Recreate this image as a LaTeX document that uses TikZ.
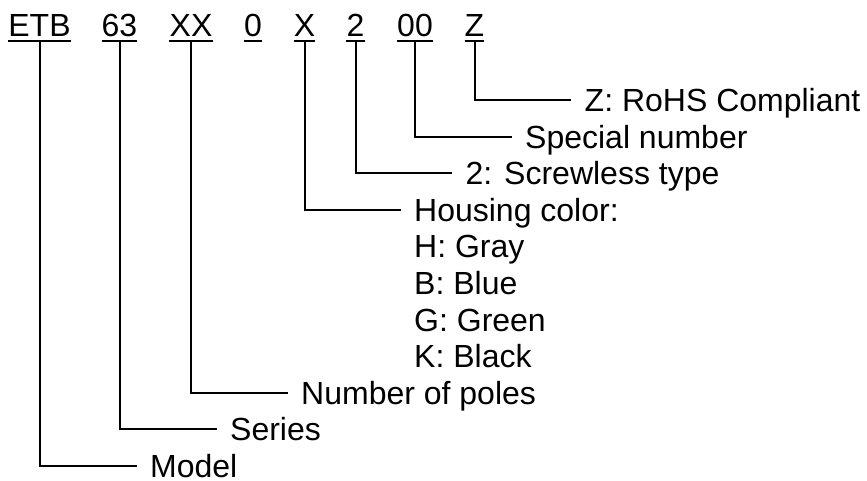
\documentclass[tikz,border=0pt]{standalone}
\usepackage{fontspec}
\setmainfont{Liberation Sans}
\begin{document}
\begin{tikzpicture}[x=1pt,y=-1pt,
  every node/.style={font=\fontsize{32pt}{38pt}\selectfont},
  tok/.style={inner sep=0pt, anchor=base},
  lbl/.style={inner xsep=13.5pt, inner ysep=0pt, text height=22.9pt, text depth=0pt, anchor=west},
  conn/.style={line width=2pt},
  ul/.style={line width=2.7pt}]
\useasboundingbox (0,0) rectangle (867,480);
% code tokens
\node[tok] (tETB) at (39.5,36) {ETB};
\node[tok] (t63)  at (119.5,36) {63};
\node[tok] (tXX)  at (191,36) {XX};
\node[tok] (t0)   at (253,36) {0};
\node[tok] (tX)   at (304.5,36) {X};
\node[tok] (t2)   at (355.5,36) {2};
\node[tok] (t00)  at (415,36) {00};
\node[tok] (tZ)   at (474.5,36) {Z};
\foreach \n in {tETB,t63,tXX,t0,tX,t2,t00,tZ}
  \draw[ul] ([yshift=-5pt]\n.base west) -- ([yshift=-5pt]\n.base east);
% labels
\def\s{36.6}
\node[lbl] (lZ)   at (571,100) {Z: RoHS Compliant};
\node[lbl] (lSp)  at (511.5,100+\s) {Special number};
\node[lbl] (lScr) at (452,100+2*\s) {2: Screwless type};
\node[lbl] (lHou) at (400.5,100+3*\s) {Housing color:};
\node[lbl] (lH)   at (400.5,100+4*\s) {H: Gray};
\node[lbl] (lB)   at (400.5,100+5*\s) {B: Blue};
\node[lbl] (lG)   at (400.5,100+6*\s) {G: Green};
\node[lbl] (lK)   at (400.5,100+7*\s) {K: Black};
\node[lbl] (lPol) at (287.5,100+8*\s) {Number of poles};
\node[lbl] (lSer) at (216.5,100+9*\s) {Series};
\node[lbl] (lMod) at (136.5,100+10*\s) {Model};
% connectors
\draw[conn] ([yshift=-5pt]tZ.base)   |- (lZ.west);
\draw[conn] ([yshift=-5pt]t00.base)  |- (lSp.west);
\draw[conn] ([yshift=-5pt]t2.base)   |- (lScr.west);
\draw[conn] ([yshift=-5pt]tX.base)   |- (lHou.west);
\draw[conn] ([yshift=-5pt]tXX.base)  |- (lPol.west);
\draw[conn] ([yshift=-5pt]t63.base)  |- (lSer.west);
\draw[conn] ([yshift=-5pt]tETB.base) |- (lMod.west);
\end{tikzpicture}
\end{document}
